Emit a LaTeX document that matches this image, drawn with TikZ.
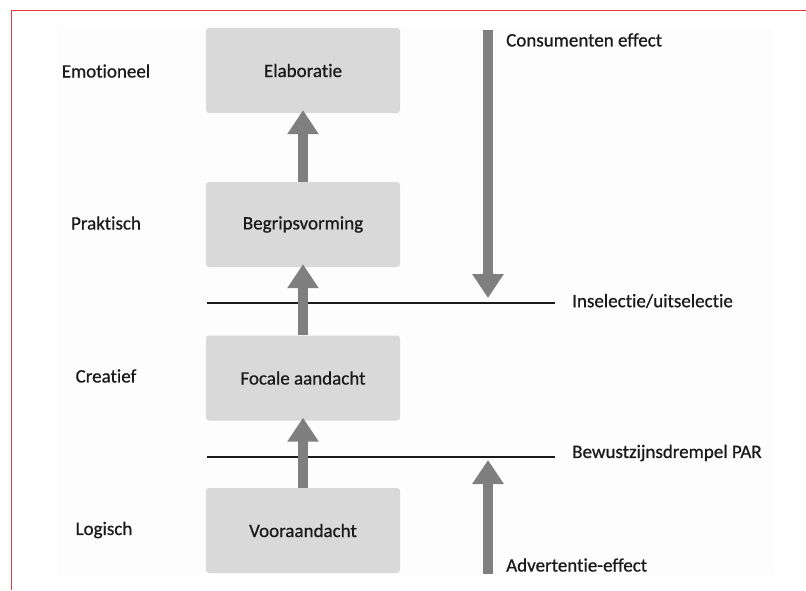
\documentclass[tikz,border=0pt]{standalone}
\usepackage{fontspec}
\setmainfont{Carlito}[Ligatures={NoCommon,NoRequired,NoContextual}, FakeBold=0.7]
\usetikzlibrary{arrows.meta}
\definecolor{boxgray}{HTML}{D9D9D9}
\definecolor{arrgray}{HTML}{7F7F7F}
\definecolor{txt}{HTML}{1A1A1A}
\definecolor{frame}{HTML}{E8383A}
\definecolor{bg}{HTML}{FDFDFD}
\tikzset{
  stagebox/.style={fill=boxgray, rounded corners=3pt, minimum width=194pt, minimum height=85pt, inner sep=0pt, text=txt, font=\fontsize{19}{22}\selectfont},
  lbl/.style={text=txt, font=\fontsize{19}{22}\selectfont, inner sep=0pt},
  bigarrow/.style={draw=arrgray, line width=10pt, -{Triangle[width=30pt,length=24pt]}, arrgray},
  thresh/.style={draw=txt, line width=1.8pt}
}
\begin{document}
\begin{tikzpicture}[x=1pt,y=-1pt]
\useasboundingbox (0,0) rectangle (806,590);
\fill[white] (0,0) rectangle (806,590);
\fill[bg] (58,27) rectangle (773,575);
\draw[frame, line width=1.2pt] (11.5,590) -- (11.5,10.5) -- (806,10.5);

% stage boxes
\node[stagebox] (ela) at (303,70.5) {Elaboratie};
\node[stagebox] (beg) at (303,224.5) {Begripsvorming};
\node[stagebox] (foc) at (303,378) {Focale aandacht};
\node[stagebox] (voo) at (303,530.5) {Vooraandacht};

% left labels
\node[lbl] (emo) at (106,71) {Emotioneel};
\node[lbl] (pra) at (106,223) {Praktisch};
\node[lbl] (cre) at (106,376) {Creatief};
\node[lbl] (log) at (104,530) {Logisch};

% thresholds
\coordinate (l1a) at (207,303);
\coordinate (l1b) at (555,303);
\coordinate (l2a) at (207,457);
\coordinate (l2b) at (555,457);
\draw[thresh] (l1a) -- (l1b);
\draw[thresh] (l2a) -- (l2b);
\node[lbl, anchor=west] (insel) at (572,301) {Inselectie/uitselectie};
\node[lbl, anchor=west] (bewust) at (572,453) {Bewustzijnsdrempel PAR};

% up arrows between stages
\draw[bigarrow] (voo.north) -- ([yshift=3pt]foc.south);
\draw[bigarrow] (foc.north) -- ([yshift=3pt]beg.south);
\draw[bigarrow] (beg.north) -- ([yshift=3pt]ela.south);

% consumer effect arrow
\coordinate (ctop) at (488,30);
\coordinate (cbot) at (488,298);
\draw[bigarrow] (ctop) -- (cbot);
\node[lbl, anchor=west] (cons) at (506,40) {Consumenten effect};

% advertising effect arrow
\coordinate (abot) at (488,574);
\coordinate (atop) at (488,460);
\draw[bigarrow] (abot) -- (atop);
\node[lbl, anchor=west] (adv) at (506,565) {Advertentie-effect};
\end{tikzpicture}
\end{document}
